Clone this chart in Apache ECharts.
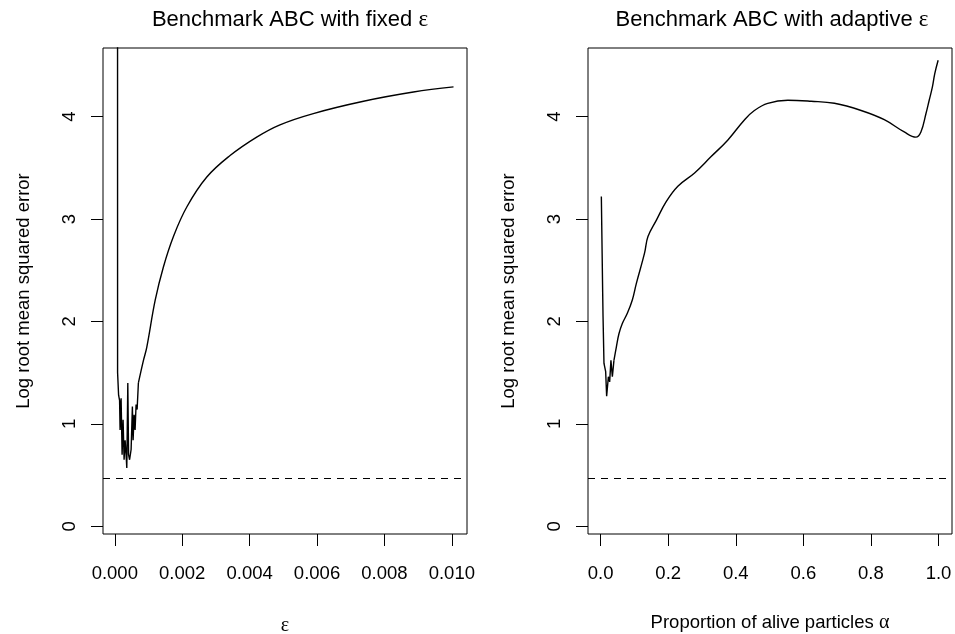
<!DOCTYPE html>
<html>
<head>
<meta charset="utf-8">
<script src="https://cdn.jsdelivr.net/npm/echarts@6/dist/echarts.min.js"></script>
<style>
  html, body { margin: 0; padding: 0; background: #fff; }
  #chart { width: 955px; height: 634px; }
</style>
</head>
<body>
<div id="chart"></div>
<script>
// left panel: fixed epsilon (noisy start, then smooth rise)
var fixedEps = [0.00008, 0.000083, 0.000113, 0.000142, 0.000157, 0.000187, 0.000217, 0.000246, 0.000276,
    0.000306, 0.000335, 0.000356, 0.000386, 0.000409, 0.000439, 0.000484, 0.000522, 0.000543, 0.000573,
    0.000602, 0.000632, 0.000662, 0.0007];
var fixedErr = [9.0, 1.50, 1.28, 1.23, 0.94, 1.25, 0.70, 1.04, 0.65,
    0.84, 0.70, 0.57, 1.40, 0.70, 0.65, 0.75, 1.17, 0.84, 1.09,
    0.94, 1.19, 1.14, 1.40];
var fixedEpsSmooth = [0.0007, 0.00085, 0.00095, 0.0012, 0.00144, 0.00174, 0.00214, 0.00273,
    0.00342, 0.00421, 0.0049, 0.00589, 0.00738, 0.00886, 0.01005];
var fixedErrSmooth = [1.40, 1.62, 1.75, 2.21, 2.53, 2.83, 3.12, 3.41,
    3.62, 3.80, 3.92, 4.03, 4.15, 4.24, 4.29];

// right panel: adaptive epsilon
var alivePct = [0.002, 0.006, 0.007, 0.0098, 0.0148, 0.0177, 0.0228, 0.0266, 0.0304, 0.0346, 0.0393];
var adaptiveErr = [3.22, 2.27, 2.05, 1.59, 1.51, 1.27, 1.46, 1.41, 1.62, 1.46, 1.62];
var alivePctSmooth = [0.0393, 0.0464, 0.0541, 0.0641, 0.0789, 0.0937, 0.1055, 0.130, 0.140, 0.165,
    0.194, 0.2285, 0.278, 0.327, 0.376, 0.426, 0.455, 0.4946, 0.554, 0.623, 0.692, 0.771, 0.8395,
    0.8986, 0.933, 0.948, 0.963, 0.9725, 0.982, 0.989, 0.999];
var adaptiveErrSmooth = [1.62, 1.75, 1.88, 1.98, 2.08, 2.21, 2.37, 2.67, 2.83, 2.99,
    3.17, 3.32, 3.45, 3.61, 3.77, 3.97, 4.06, 4.13, 4.16, 4.15, 4.13, 4.06, 3.97,
    3.85, 3.80, 3.85, 4.03, 4.16, 4.29, 4.42, 4.55];

var benchmarkErr = 0.47;
var yTicks = [0, 1, 2, 3, 4];
var epsTicks = [0, 0.002, 0.004, 0.006, 0.008, 0.010];
var alphaTicks = [0, 0.2, 0.4, 0.6, 0.8, 1.0];

var FONT = 'Liberation Sans';
var SERIF = 'Liberation Serif';
var FS = 18.5;

function pairs(xs, ys) {
    return xs.map(function (x, i) { return [x, ys[i]]; });
}

function xAxisOf(idx, min, max, ticks, digits, name, gap) {
    return {
        type: 'value', gridIndex: idx, min: min, max: max,
        splitLine: { show: false },
        axisLine: { show: false, onZero: false },
        axisTick: { show: true, customValues: ticks, length: 12, inside: false,
            lineStyle: { color: '#000', width: 1 } },
        axisLabel: { customValues: ticks, margin: 30, color: '#000', fontFamily: FONT, fontSize: FS,
            formatter: function (v) { return v.toFixed(digits); } },
        name: name, nameLocation: 'middle', nameGap: gap,
        nameTextStyle: { color: '#000', fontFamily: FONT, fontSize: FS,
            rich: { g: { fontFamily: SERIF, fontSize: 20, color: '#000' } } }
    };
}

function yAxisOf(idx) {
    return {
        type: 'value', gridIndex: idx, min: -0.075, max: 4.67,
        splitLine: { show: false },
        axisLine: { show: false, onZero: false },
        axisTick: { show: true, customValues: yTicks, length: 12, inside: false,
            lineStyle: { color: '#000', width: 1 } },
        axisLabel: { customValues: yTicks, rotate: 90, margin: 24, color: '#000', fontFamily: FONT, fontSize: FS },
        name: 'Log root mean squared error', nameLocation: 'middle', nameGap: 70,
        nameTextStyle: { color: '#000', fontFamily: FONT, fontSize: FS }
    };
}

function curve(idx, data, smooth, withLine) {
    var s = {
        type: 'line', xAxisIndex: idx, yAxisIndex: idx, data: data,
        showSymbol: false, symbol: 'none', clip: true, animation: false,
        smooth: smooth ? 0.4 : false,
        lineStyle: { color: '#000', width: 1.4 }
    };
    if (withLine) {
        s.markLine = {
            silent: true, symbol: 'none', label: { show: false }, animation: false,
            lineStyle: { color: '#000', width: 1, type: [7, 6] },
            data: [{ yAxis: benchmarkErr }]
        };
    }
    return s;
}

var chart = echarts.init(document.getElementById('chart'));
chart.setOption({
    backgroundColor: '#fff',
    animation: false,
    grid: [
        { left: 103, top: 48, width: 364, height: 486, show: true, borderColor: '#000', borderWidth: 1,
          containLabel: false, outerBoundsMode: 'none' },
        { left: 588, top: 48, width: 364, height: 486, show: true, borderColor: '#000', borderWidth: 1,
          containLabel: false, outerBoundsMode: 'none' }
    ],
    xAxis: [
        xAxisOf(0, -0.00035, 0.01045, epsTicks, 3, '{g|ε}', 82),
        xAxisOf(1, -0.0375, 1.04, alphaTicks, 1, 'Proportion of alive particles {g|α}', 79)
    ],
    yAxis: [yAxisOf(0), yAxisOf(1)],
    series: [
        curve(0, pairs(fixedEps, fixedErr), false, true),
        curve(0, pairs(fixedEpsSmooth, fixedErrSmooth), true, false),
        curve(1, pairs(alivePct, adaptiveErr), false, true),
        curve(1, pairs(alivePctSmooth, adaptiveErrSmooth), true, false)
    ],
    graphic: [
        { type: 'text', style: { x: 290, y: 20, text: 'Benchmark ABC with fixed {g|ε}', align: 'center',
            verticalAlign: 'middle', fontFamily: FONT, fontSize: 22, fill: '#000',
            rich: { g: { fontFamily: SERIF, fontSize: 23, fill: '#000' } } } },
        { type: 'text', style: { x: 772, y: 20, text: 'Benchmark ABC with adaptive {g|ε}', align: 'center',
            verticalAlign: 'middle', fontFamily: FONT, fontSize: 22, fill: '#000',
            rich: { g: { fontFamily: SERIF, fontSize: 23, fill: '#000' } } } }
    ]
});
</script>
</body>
</html>
